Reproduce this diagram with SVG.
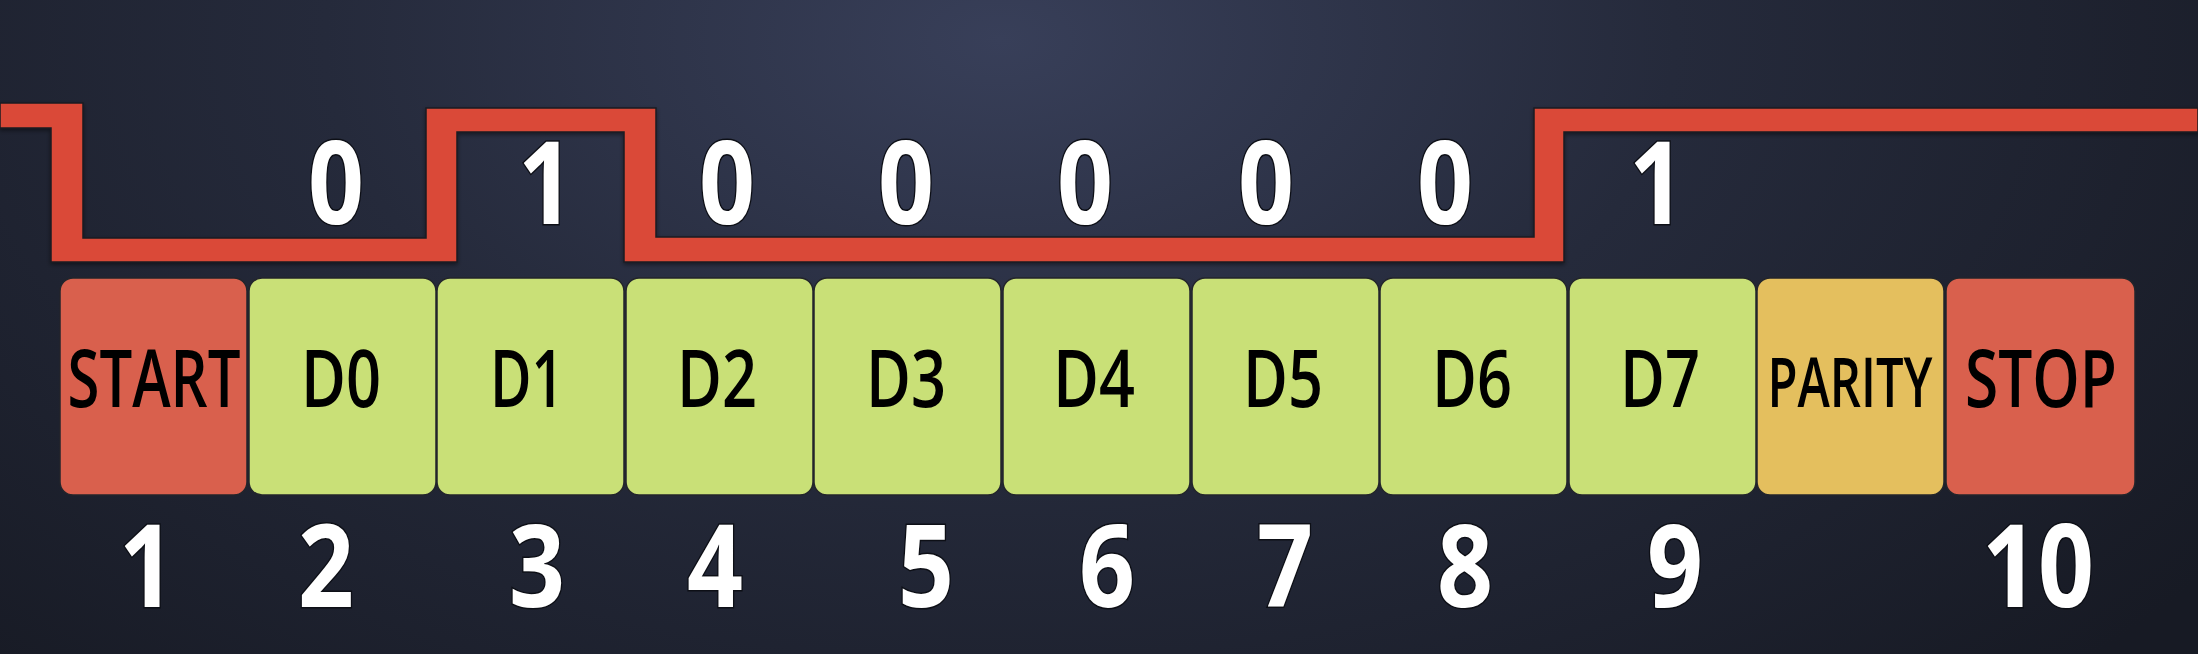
<svg xmlns="http://www.w3.org/2000/svg" width="2198" height="654" viewBox="0 0 2198 654">
<defs>
<radialGradient id="bg" cx="1000" cy="40" r="1500" gradientUnits="userSpaceOnUse" gradientTransform="translate(1000 40) scale(1 0.6) translate(-1000 -40)">
<stop offset="0" stop-color="#383f59"/>
<stop offset="0.45" stop-color="#252a3b"/>
<stop offset="1" stop-color="#171a24"/>
</radialGradient>
<filter id="sh" x="-5%" y="-5%" width="110%" height="120%">
<feDropShadow dx="0" dy="2" stdDeviation="2" flood-color="#000" flood-opacity="0.45"/>
</filter>
</defs>
<style>
.box{stroke:#23252b;stroke-width:1.5}
.start{fill:#d9604d}
.data{fill:#c9e077}
.par{fill:#e4bf5e}
.lbl{font-family:"Open Sans","Liberation Sans",sans-serif;font-weight:600;font-size:80px;fill:#000;text-anchor:middle}
.bit{font-family:"Open Sans","Liberation Sans",sans-serif;font-weight:bold;font-size:114px;fill:#fff;stroke:#0d0f16;stroke-width:3;paint-order:stroke;text-anchor:middle}
.wave{fill:#da4a37;stroke:#1a1c25;stroke-width:1.5}
</style>
<rect width="2198" height="654" fill="url(#bg)"/>
<g id="connectors">
<path class="wave" filter="url(#sh)" d="M0 103 H83 V238 H426 V108 H656 V237 H1534 V108 H2198 V132 H1564 V262 H624 V132 H457 V262 H51 V128 H0 Z"/>
</g>
<g id="bit-values">
<text class="bit" x="336" y="224" textLength="56" lengthAdjust="spacingAndGlyphs">0</text>
<text class="bit" x="546" y="224" textLength="56" lengthAdjust="spacingAndGlyphs">1</text>
<text class="bit" x="727" y="224" textLength="56" lengthAdjust="spacingAndGlyphs">0</text>
<text class="bit" x="906" y="224" textLength="56" lengthAdjust="spacingAndGlyphs">0</text>
<text class="bit" x="1085" y="224" textLength="56" lengthAdjust="spacingAndGlyphs">0</text>
<text class="bit" x="1266" y="224" textLength="56" lengthAdjust="spacingAndGlyphs">0</text>
<text class="bit" x="1445" y="224" textLength="56" lengthAdjust="spacingAndGlyphs">0</text>
<text class="bit" x="1657" y="224" textLength="56" lengthAdjust="spacingAndGlyphs">1</text>
</g>
<g id="node-start"><rect class="box start" x="60" y="278" width="187" height="217" rx="13"/><text class="lbl" x="154" y="407" textLength="173" lengthAdjust="spacingAndGlyphs">START</text></g>
<g id="node-d0"><rect class="box data" x="249" y="278" width="187" height="217" rx="13"/><text class="lbl" x="341" y="407" textLength="80" lengthAdjust="spacingAndGlyphs">D0</text></g>
<g id="node-d1"><rect class="box data" x="437" y="278" width="187" height="217" rx="13"/><text class="lbl" x="527" y="407" textLength="74" lengthAdjust="spacingAndGlyphs">D1</text></g>
<g id="node-d2"><rect class="box data" x="626" y="278" width="187" height="217" rx="13"/><text class="lbl" x="717" y="407" textLength="80" lengthAdjust="spacingAndGlyphs">D2</text></g>
<g id="node-d3"><rect class="box data" x="814" y="278" width="187" height="217" rx="13"/><text class="lbl" x="906" y="407" textLength="80" lengthAdjust="spacingAndGlyphs">D3</text></g>
<g id="node-d4"><rect class="box data" x="1003" y="278" width="187" height="217" rx="13"/><text class="lbl" x="1094" y="407" textLength="82" lengthAdjust="spacingAndGlyphs">D4</text></g>
<g id="node-d5"><rect class="box data" x="1192" y="278" width="187" height="217" rx="13"/><text class="lbl" x="1283" y="407" textLength="80" lengthAdjust="spacingAndGlyphs">D5</text></g>
<g id="node-d6"><rect class="box data" x="1380" y="278" width="187" height="217" rx="13"/><text class="lbl" x="1472" y="407" textLength="80" lengthAdjust="spacingAndGlyphs">D6</text></g>
<g id="node-d7"><rect class="box data" x="1569" y="278" width="187" height="217" rx="13"/><text class="lbl" x="1660" y="407" textLength="80" lengthAdjust="spacingAndGlyphs">D7</text></g>
<g id="node-parity"><rect class="box par" x="1757" y="278" width="187" height="217" rx="13"/><text class="lbl" x="1850" y="407" style="font-size:68px" textLength="165" lengthAdjust="spacingAndGlyphs">PARITY</text></g>
<g id="node-stop"><rect class="box start" x="1946" y="278" width="189" height="217" rx="13"/><text class="lbl" x="2041" y="407" textLength="152" lengthAdjust="spacingAndGlyphs">STOP</text></g>
<g id="bit-numbers">
<text class="bit" x="147" y="607" textLength="56" lengthAdjust="spacingAndGlyphs">1</text>
<text class="bit" x="326" y="607" textLength="56" lengthAdjust="spacingAndGlyphs">2</text>
<text class="bit" x="537" y="607" textLength="56" lengthAdjust="spacingAndGlyphs">3</text>
<text class="bit" x="715" y="607" textLength="56" lengthAdjust="spacingAndGlyphs">4</text>
<text class="bit" x="926" y="607" textLength="56" lengthAdjust="spacingAndGlyphs">5</text>
<text class="bit" x="1107" y="607" textLength="56" lengthAdjust="spacingAndGlyphs">6</text>
<text class="bit" x="1285" y="607" textLength="56" lengthAdjust="spacingAndGlyphs">7</text>
<text class="bit" x="1465" y="607" textLength="56" lengthAdjust="spacingAndGlyphs">8</text>
<text class="bit" x="1675" y="607" textLength="56" lengthAdjust="spacingAndGlyphs">9</text>
<text class="bit" x="2038" y="607" textLength="112" lengthAdjust="spacingAndGlyphs">10</text>
</g>
</svg>
